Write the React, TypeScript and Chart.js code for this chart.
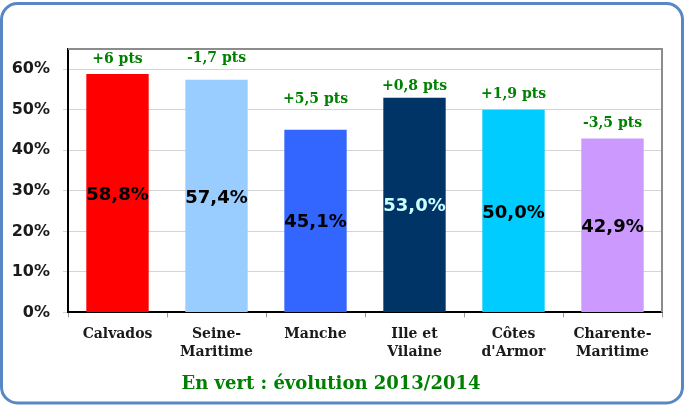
import React, { useEffect, useRef } from "react";
import { Chart, registerables } from "chart.js";

Chart.register(...registerables);

const categories: string[][] = [
  ["Calvados"],
  ["Seine-", "Maritime"],
  ["Manche"],
  ["Ille et", "Vilaine"],
  ["Côtes", "d'Armor"],
  ["Charente-", "Maritime"],
];
const values = [58.8, 57.4, 45.1, 53.0, 50.0, 42.9];
const evolutionLabels = ["+6 pts", "-1,7 pts", "+5,5 pts", "+0,8 pts", "+1,9 pts", "-3,5 pts"];
const evolutionLabelY = [62.5, 62.8, 52.6, 55.8, 53.9, 46.7];
const barColors = ["#ff0000", "#99ccff", "#3366ff", "#003366", "#00ccff", "#cc99ff"];
const valueLabelColors = ["#000000", "#000000", "#000000", "#ccffff", "#000000", "#000000"];
const titleText = "En vert : évolution 2013/2014";

const GREEN = "#008000";
const SERIF = '"DejaVu Serif", serif';
const SANS = '"DejaVu Sans", sans-serif';

const decorPlugin = {
  id: "decor",
  beforeDraw(chart: any) {
    const ctx = chart.ctx;
    ctx.save();
    ctx.fillStyle = "#ffffff";
    ctx.fillRect(0, 0, chart.width, chart.height);
    ctx.strokeStyle = "#5787c5";
    ctx.lineWidth = 3;
    ctx.beginPath();
    ctx.roundRect(1.5, 3.5, chart.width - 4, chart.height - 5.5, 16);
    ctx.stroke();
    ctx.restore();
  },
  beforeDatasetsDraw(chart: any) {
    const { ctx, chartArea } = chart;
    ctx.save();
    ctx.strokeStyle = "#8c8c8c";
    ctx.lineWidth = 2;
    ctx.beginPath();
    ctx.moveTo(chartArea.left, chartArea.top);
    ctx.lineTo(chartArea.right, chartArea.top);
    ctx.lineTo(chartArea.right, chartArea.bottom);
    ctx.stroke();
    ctx.restore();
  },
  afterDatasetsDraw(chart: any) {
    const ctx = chart.ctx;
    const meta = chart.getDatasetMeta(0);
    const yScale = chart.scales.y;
    ctx.save();
    ctx.textAlign = "center";
    ctx.textBaseline = "middle";
    meta.data.forEach((bar: any, i: number) => {
      ctx.font = "bold 18px " + SANS;
      ctx.fillStyle = valueLabelColors[i];
      const cy = (bar.y + bar.base) / 2;
      ctx.fillText(values[i].toFixed(1).replace(".", ",") + "%", bar.x, cy + 2);
      ctx.font = "bold 14px " + SERIF;
      ctx.fillStyle = GREEN;
      ctx.fillText(evolutionLabels[i], bar.x, yScale.getPixelForValue(evolutionLabelY[i]));
    });
    ctx.restore();
  },
};

export default function App() {
  const canvasRef = useRef<HTMLCanvasElement | null>(null);

  useEffect(() => {
    if (!canvasRef.current) return;
    const chart = new Chart(canvasRef.current, {
      type: "bar",
      data: {
        labels: categories,
        datasets: [
          {
            data: values,
            backgroundColor: barColors,
            borderWidth: 0,
            categoryPercentage: 1,
            barPercentage: 0.63,
          },
        ],
      },
      options: {
        animation: false,
        responsive: true,
        maintainAspectRatio: false,
        layout: { padding: { top: 49, right: 23, left: 0, bottom: 10 } },
        plugins: {
          legend: { display: false },
          tooltip: { enabled: false },
          title: {
            display: true,
            position: "bottom",
            text: titleText,
            color: GREEN,
            font: { family: SERIF, size: 18, weight: "bold", lineHeight: 1.2 },
            padding: { top: 0, bottom: 0 },
          },
        },
        scales: {
          x: {
            border: { display: true, color: "#000000", width: 2 },
            grid: {
              offset: true,
              drawOnChartArea: false,
              drawTicks: true,
              tickLength: 5,
              color: "#9a9a9a",
            },
            ticks: {
              color: "#1a1a1a",
              padding: 8,
              maxRotation: 0,
              autoSkip: false,
              font: { family: SERIF, size: 14, weight: "bold", lineHeight: 1.3 },
            },
            afterFit(scale: any) {
              scale.height = 61;
            },
          },
          y: {
            min: 0,
            max: 65,
            border: { display: true, color: "#000000", width: 2 },
            grid: {
              color: "#d4d4d4",
              lineWidth: 1,
              drawTicks: true,
              tickLength: 5,
            },
            ticks: {
              stepSize: 10,
              padding: 13,
              color: "#1a1a1a",
              font: { family: SANS, size: 16, weight: "bold" },
              callback: (v: any) => v + "%",
            },
            afterBuildTicks(scale: any) {
              scale.ticks = scale.ticks.filter((t: any) => t.value % 10 === 0);
            },
            afterFit(scale: any) {
              scale.width = 68;
            },
          },
        },
      },
      plugins: [decorPlugin],
    });
    return () => chart.destroy();
  }, []);

  return (
    <div style={{ position: "fixed", left: 0, top: 0, width: 685, height: 405 }}>
      <canvas ref={canvasRef} />
    </div>
  );
}
